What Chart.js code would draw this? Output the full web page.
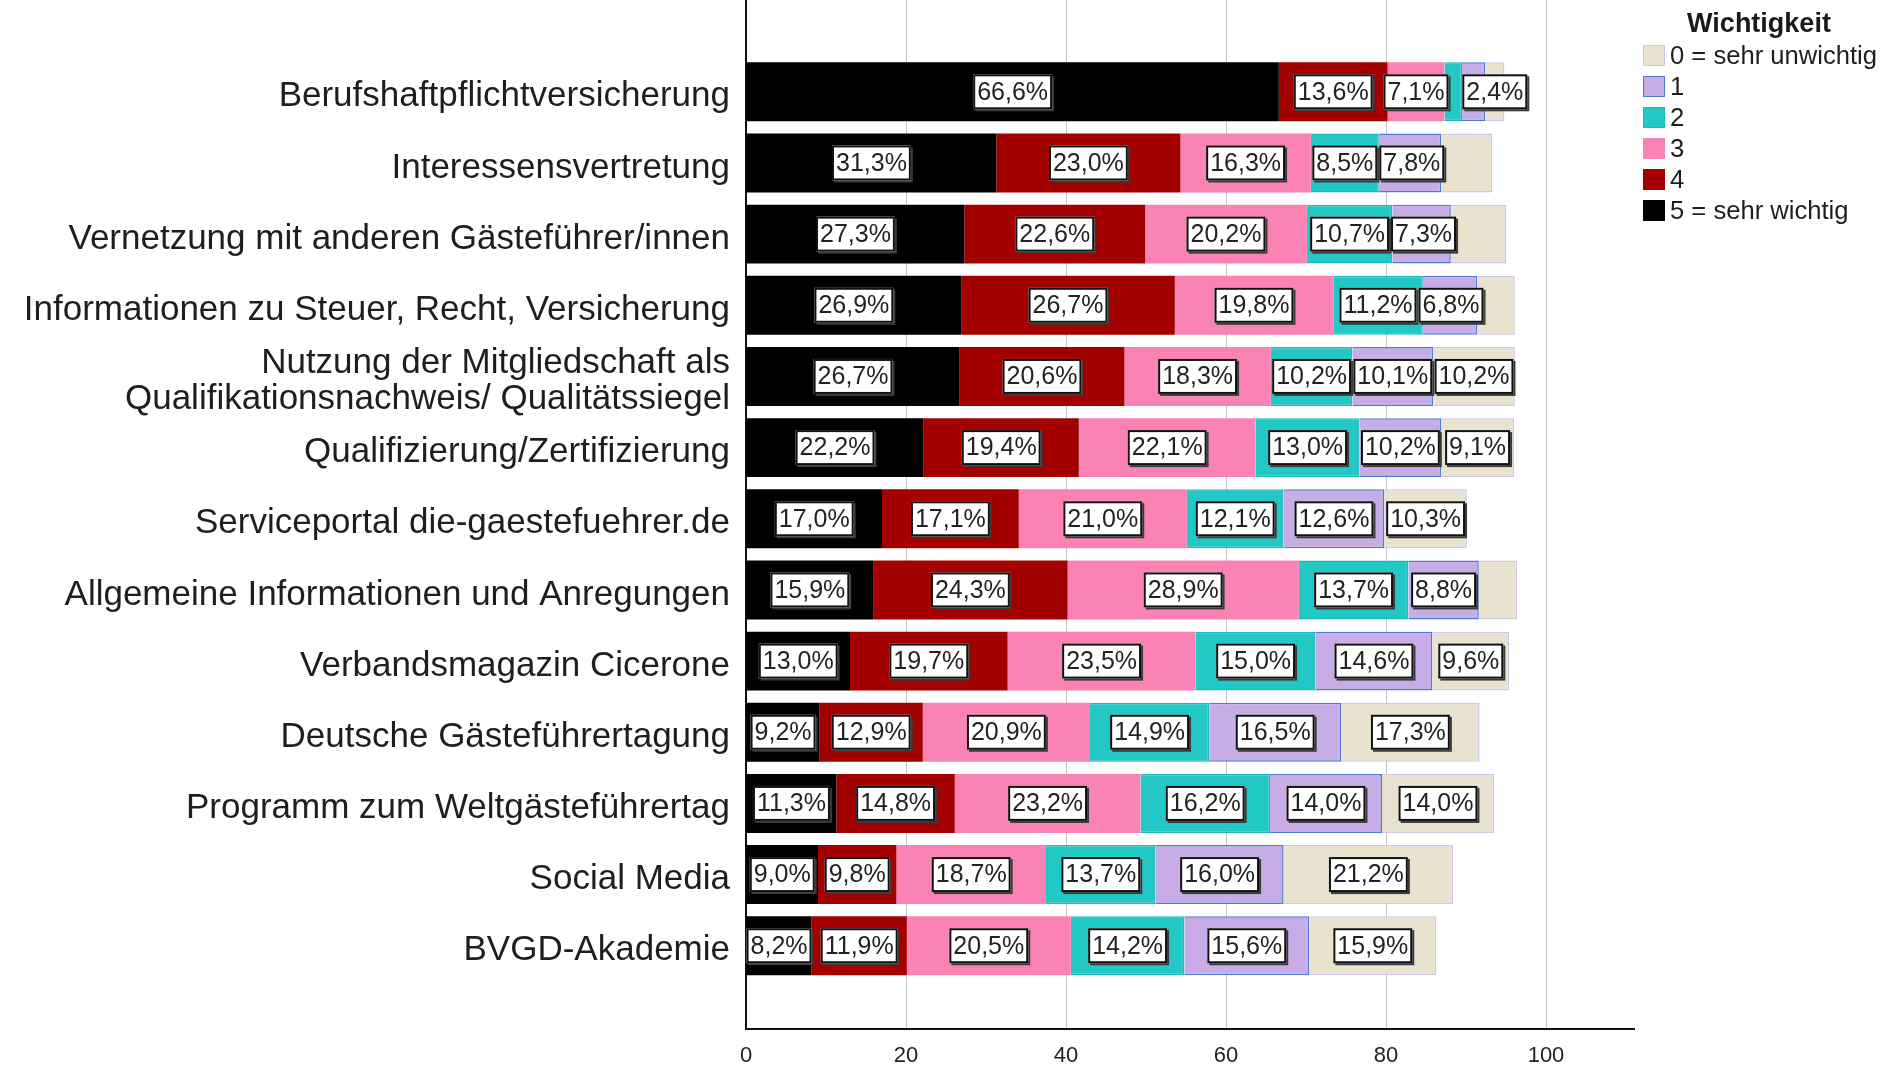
<!DOCTYPE html>
<html>
<head>
<meta charset="utf-8">
<script src="https://cdn.jsdelivr.net/npm/chart.js@4/dist/chart.umd.min.js"></script>
<style>
html,body{margin:0;padding:0;background:#ffffff;}
#c{display:block;}
</style>
</head>
<body>
<canvas id="c" width="1883" height="1070" style="width:1883px;height:1070px"></canvas>
<script>
// ---------- data ----------
const categories = [
  'Berufshaftpflichtversicherung',
  'Interessensvertretung',
  'Vernetzung mit anderen Gästeführer/innen',
  'Informationen zu Steuer, Recht, Versicherung',
  ['Nutzung der Mitgliedschaft als', 'Qualifikationsnachweis/ Qualitätssiegel'],
  'Qualifizierung/Zertifizierung',
  'Serviceportal die-gaestefuehrer.de',
  'Allgemeine Informationen und Anregungen',
  'Verbandsmagazin Cicerone',
  'Deutsche Gästeführertagung',
  'Programm zum Weltgästeführertag',
  'Social Media',
  'BVGD-Akademie'
];
const levelNames = ['5 = sehr wichtig', '4', '3', '2', '1', '0 = sehr unwichtig'];
const level5 = [66.6, 31.3, 27.3, 26.9, 26.7, 22.2, 17.0, 15.9, 13.0, 9.2, 11.3, 9.0, 8.2];
const level4 = [13.6, 23.0, 22.6, 26.7, 20.6, 19.4, 17.1, 24.3, 19.7, 12.9, 14.8, 9.8, 11.9];
const level3 = [7.1, 16.3, 20.2, 19.8, 18.3, 22.1, 21.0, 28.9, 23.5, 20.9, 23.2, 18.7, 20.5];
const level2 = [2.2, 8.5, 10.7, 11.2, 10.2, 13.0, 12.1, 13.7, 15.0, 14.9, 16.2, 13.7, 14.2];
const level1 = [2.9, 7.8, 7.3, 6.8, 10.1, 10.2, 12.6, 8.8, 14.6, 16.5, 14.0, 16.0, 15.6];
const level0 = [2.4, 6.4, 6.9, 4.7, 10.2, 9.1, 10.3, 4.8, 9.6, 17.3, 14.0, 21.2, 15.9];
const xTickValues = [0, 20, 40, 60, 80, 100];
const legendTitle = 'Wichtigkeit';
// value labels that the original leaves out: [category index, level]
const hiddenLabels = [[0, 2], [0, 1], [1, 0], [2, 0], [3, 0], [7, 0]];

// ---------- styles ----------
const levelSeries = [level5, level4, level3, level2, level1, level0];
const levelNums = [5, 4, 3, 2, 1, 0];
const fills   = ['#000000', '#a30000', '#fb82b4', '#22c8c5', '#c7ace6', '#e9e2cf'];
const borders = ['#000000', '#8c0000', '#fb82b4', '#1fb8b6', '#4c7bd2', '#cfc6ea'];
const FONT = '"Liberation Sans", Arial, sans-serif';
const Y_MIN = -1.29, Y_MAX = 13.17, X_MIN = 0, X_MAX = 111;

const datasets = levelSeries.map((vals, k) => ({
  label: levelNames[k],
  level: levelNums[k],
  data: vals.map((v, i) => ({ x: v, y: i })),
  backgroundColor: fills[k],
  borderColor: borders[k],
  borderWidth: k >= 3 ? 1.5 : 0,
  barPercentage: 0.9,
  categoryPercentage: 0.92
}));

function fmt(v) { return v.toFixed(1).replace('.', ',') + '%'; }
function isHidden(i, lvl) { return hiddenLabels.some(h => h[0] === i && h[1] === lvl); }

// boxed value labels on the segments
const segLabels = {
  id: 'segLabels',
  afterDatasetsDraw(chart) {
    const ctx = chart.ctx;
    ctx.save();
    ctx.font = '25px ' + FONT;
    ctx.textAlign = 'center';
    ctx.textBaseline = 'middle';
    for (let i = 0; i < categories.length; i++) {
      let prevRight = -Infinity;
      chart.data.datasets.forEach((ds, di) => {
        if (isHidden(i, ds.level)) return;
        const el = chart.getDatasetMeta(di).data[i];
        const txt = fmt(ds.data[i].x);
        const w = ctx.measureText(txt).width + 8;
        const h = 35;
        const cx = (el.x + el.base) / 2;
        let left = cx - w / 2;
        if (left < prevRight + 2) left = prevRight + 2;
        const top = el.y - h / 2;
        ctx.fillStyle = '#3a3a3a';
        ctx.fillRect(left + 2, top + 2, w, h);
        ctx.fillStyle = '#ffffff';
        ctx.fillRect(left, top, w, h);
        ctx.lineWidth = 2;
        ctx.strokeStyle = '#111111';
        ctx.strokeRect(left + 1, top + 1, w - 2, h - 2);
        ctx.fillStyle = '#222222';
        ctx.fillText(txt, left + w / 2, el.y + 1);
        prevRight = left + w;
      });
    }
    ctx.restore();
  }
};

// SPSS-style legend to the right of the plot
const sideLegend = {
  id: 'sideLegend',
  afterDraw(chart) {
    const ctx = chart.ctx;
    const x0 = chart.chartArea.right + 9;
    ctx.save();
    ctx.textBaseline = 'middle';
    ctx.fillStyle = '#1a1a1a';
    ctx.font = 'bold 27px ' + FONT;
    ctx.textAlign = 'center';
    ctx.fillText(legendTitle, x0 + 116, 25);
    ctx.font = '25.6px ' + FONT;
    ctx.textAlign = 'left';
    chart.data.datasets.slice().reverse().forEach((ds, k) => {
      const cy = 55.5 + k * 31;
      ctx.fillStyle = ds.backgroundColor;
      ctx.fillRect(x0, cy - 10.5, 22, 21);
      ctx.lineWidth = 1;
      ctx.strokeStyle = ds.borderWidth ? ds.borderColor : ds.backgroundColor;
      ctx.strokeRect(x0 + 0.5, cy - 10, 21, 20);
      ctx.fillStyle = '#1e1e1e';
      ctx.fillText(ds.label, x0 + 27, cy + 1);
    });
    ctx.restore();
  }
};

new Chart(document.getElementById('c'), {
  type: 'bar',
  data: { datasets },
  plugins: [segLabels, sideLegend],
  options: {
    indexAxis: 'y',
    responsive: false,
    animation: false,
    devicePixelRatio: 1,
    layout: { padding: { top: 0, left: 0, bottom: 0, right: 249 } },
    scales: {
      x: {
        type: 'linear',
        stacked: true,
        bounds: 'data',
        min: X_MIN,
        max: X_MAX,
        afterBuildTicks: s => {
          s.ticks = xTickValues.map(v => ({ value: v }));
          s.min = X_MIN; s.max = X_MAX;
        },
        afterFit: s => { s.height = 41; s.paddingLeft = 0; s.paddingRight = 0; },
        grid: { color: '#c4c4c4', lineWidth: 1, drawTicks: false },
        border: { display: true, color: '#111111', width: 2 },
        ticks: { font: { family: FONT, size: 22 }, color: '#222222', padding: 14 }
      },
      y: {
        type: 'linear',
        stacked: true,
        reverse: true,
        offset: false,
        bounds: 'data',
        min: Y_MIN,
        max: Y_MAX,
        afterBuildTicks: s => {
          s.ticks = categories.map((c, i) => ({ value: i }));
          s.min = Y_MIN; s.max = Y_MAX;
        },
        afterFit: s => { s.width = 746; s.paddingTop = 0; s.paddingBottom = 0; },
        grid: { display: false, drawTicks: false, offset: false },
        border: { display: true, color: '#111111', width: 2 },
        ticks: {
          font: { family: FONT, size: 35, lineHeight: 1.03 },
          color: '#1e1e1e',
          padding: 16,
          labelOffset: 5,
          callback: v => categories[v]
        }
      }
    },
    plugins: {
      tooltip: { enabled: false },
      legend: { display: false }
    }
  }
});
</script>
</body>
</html>
